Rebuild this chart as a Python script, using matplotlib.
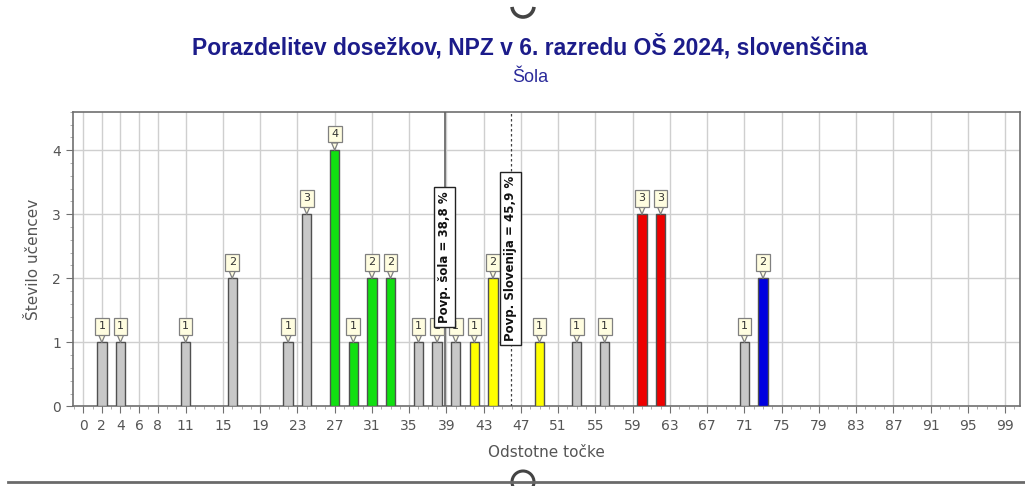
import matplotlib.pyplot as plt
from matplotlib.lines import Line2D
from matplotlib.patches import Ellipse, Arc
from matplotlib.ticker import MultipleLocator

# podatki
tocke = [2, 4, 11, 16, 22, 24, 27, 29, 31, 33, 36, 38, 40, 42, 44, 49, 53, 56, 60, 62, 71, 73]
stevilo = [1, 1, 1, 2, 1, 3, 4, 1, 2, 2, 1, 1, 1, 1, 2, 1, 1, 1, 3, 3, 1, 2]
skupina = ['s', 's', 's', 's', 's', 's', 'z', 'z', 'z', 'z', 's', 's', 's',
           'r', 'r', 'r', 's', 's', 'd', 'd', 's', 'm']
x_oznake = [0, 2, 4, 6, 8, 11, 15, 19, 23, 27, 31, 35, 39, 43, 47, 51, 55,
            59, 63, 67, 71, 75, 79, 83, 87, 91, 95, 99]
povp_sola = 38.8
povp_slo = 45.9

barve = {'s': '#c8c8c8', 'z': '#11e011', 'r': '#ffff00', 'd': '#ee0000', 'm': '#0000e0'}

fig = plt.figure(figsize=(10.25, 4.86), dpi=100)
ax = fig.add_axes([0.0712, 0.1636, 0.924, 0.6066])

# stolpci
ax.bar(tocke, stevilo, width=1.0, color=[barve[g] for g in skupina],
       edgecolor='#505050', linewidth=1.0, zorder=3)

# oznake nad stolpci
for xv, yv in zip(tocke, stevilo):
    ax.annotate(str(yv), (xv, yv), xytext=(0, 16), textcoords='offset pixels',
                ha='center', va='center', fontsize=8, color='#333333', zorder=5,
                bbox=dict(boxstyle='square,pad=0.3', fc='#fffde0', ec='#808080', lw=0.9),
                arrowprops=dict(arrowstyle='wedge,tail_width=0.55,shrink_factor=0.5',
                                fc='#fffde0', ec='#808080', lw=0.9, shrinkA=0, shrinkB=0))

# povprecji
ax.axvline(povp_sola, color='#606060', lw=1.2, zorder=4)
ax.axvline(povp_slo, color='#404040', lw=0.9, ls=(0, (2, 2)), zorder=4)
ax.text(povp_sola, 2.33, 'Povp. šola = 38,8 %', rotation=90, ha='center', va='center',
        fontsize=8.5, fontweight='bold', color='#111111', zorder=6,
        bbox=dict(boxstyle='square,pad=0.35', fc='white', ec='#222222', lw=1))
ax.text(povp_slo, 2.31, 'Povp. Slovenija = 45,9 %', rotation=90, ha='center', va='center',
        fontsize=8.5, fontweight='bold', color='#111111', zorder=6,
        bbox=dict(boxstyle='square,pad=0.35', fc='white', ec='#222222', lw=1))

# osi
ax.set_xlim(-1.1, 100.6)
ax.set_ylim(0, 4.6)
ax.set_xticks(x_oznake)
ax.set_yticks([0, 1, 2, 3, 4])
ax.xaxis.set_minor_locator(MultipleLocator(1))
ax.yaxis.set_minor_locator(MultipleLocator(0.2))
ax.tick_params(which='major', length=5, color='#707070', labelsize=10, labelcolor='#555555')
ax.tick_params(which='minor', length=2.5, color='#a0a0a0')
ax.tick_params(axis='x', pad=4)
ax.grid(True, which='major', color='#cfcfcf', lw=1, zorder=0)
ax.set_axisbelow(True)
for s in ax.spines.values():
    s.set_color('#707070')
    s.set_linewidth(1.2)

ax.set_xlabel('Odstotne točke', fontsize=11, color='#555555', labelpad=9)
ax.set_ylabel('Število učencev', fontsize=11, color='#555555', labelpad=8)

fig.text(0.517, 0.903, 'Porazdelitev dosežkov, NPZ v 6. razredu OŠ 2024, slovenščina',
         ha='center', va='center', fontsize=16.5, fontweight='bold', color='#1c1c8a',
         family=['Liberation Sans', 'DejaVu Sans'])
fig.text(0.517, 0.84, 'Šola', ha='center', va='center', fontsize=13, color='#2a2a9a',
         family=['Liberation Sans', 'DejaVu Sans'])

# robovi zaslonske slike
fig.add_artist(Line2D([8 / 1025, 1], [1 - 482 / 486] * 2, transform=fig.transFigure,
                      color='#6a6a6a', lw=2))
fig.add_artist(Ellipse((523 / 1025, 1 - 482 / 486), 22 / 1025, 22 / 486,
                       transform=fig.transFigure, fc='white', ec='#444444', lw=2.2))
fig.add_artist(Arc((523 / 1025, 1 - 6 / 486), 22 / 1025, 22 / 486, theta1=190, theta2=350,
                   transform=fig.transFigure, color='#444444', lw=2.6))

fig.savefig('out.png', dpi=100)
